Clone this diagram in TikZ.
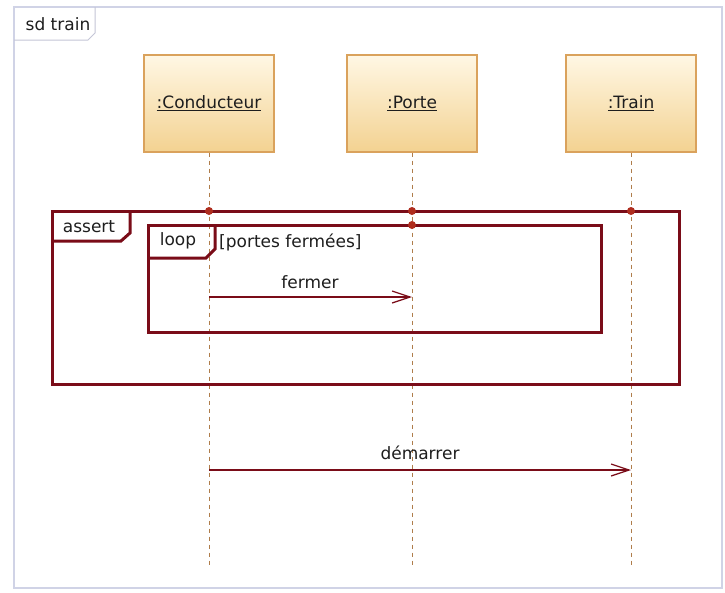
\documentclass[tikz,border=0pt]{standalone}
\usepackage{fontspec}
\setmainfont{DejaVu Sans}
\usetikzlibrary{arrows.meta}
\definecolor{frameRed}{RGB}{122,12,24}
\definecolor{lifeC}{RGB}{175,125,75}
\definecolor{boxBorder}{RGB}{218,162,92}
\definecolor{boxTop}{RGB}{255,247,228}
\definecolor{boxBot}{RGB}{243,210,145}
\definecolor{outerC}{RGB}{208,211,230}
\definecolor{dotC}{RGB}{175,45,30}
\definecolor{txtC}{RGB}{30,30,30}
\begin{document}
\begin{tikzpicture}[x=1pt,y=-1pt,
  font=\fontsize{17}{20}\selectfont,
  headbox/.style={draw=boxBorder, line width=1.2pt, top color=boxTop, bottom color=boxBot,
    minimum width=130pt, minimum height=97pt, inner sep=0pt, text=txtC},
  lifeline/.style={draw=lifeC, line width=1pt, dash pattern=on 4pt off 4pt},
  fragment/.style={draw=frameRed, line width=3pt},
  msg/.style={draw=frameRed, line width=1.3pt, -{Straight Barb[length=18pt,width=12pt,line width=1.2pt]}},
  occ/.style={circle, fill=dotC, inner sep=0pt, minimum size=8pt},
  lbl/.style={inner sep=0pt, text=txtC},
]
\useasboundingbox (0,0) rectangle (725,592);
\fill[white] (0,0) rectangle (725,592);
% outer diagram frame
\draw[outerC, line width=1.5pt] (14,7) rectangle (722,588);
\draw[outerC!85!gray, line width=1pt] (14,40) -- (88,40) -- (95,33) -- (95,7);
\node[lbl] (sdname) at (58,24) {sd train};

% lifeline heads
\node[headbox] (cond) at (209,103.5) {\underline{:Conducteur}};
\node[headbox] (porte) at (412,103.5) {\underline{:Porte}};
\node[headbox] (train) at (631,103.5) {\underline{:Train}};

% lifeline ends
\coordinate (condEnd) at (209,566);
\coordinate (porteEnd) at (412,566);
\coordinate (trainEnd) at (631,566);
\draw[lifeline] (cond.south) -- (condEnd);
\draw[lifeline] (porte.south) -- (porteEnd);
\draw[lifeline] (train.south) -- (trainEnd);

% assert fragment
\draw[fragment] (52,211) rectangle (679,384);
\draw[fragment] (52,241) -- (121,241) -- (130,233) -- (130,211);
\node[lbl] (assertlbl) at (89,227) {assert};

% loop fragment
\draw[fragment] (148,225) rectangle (601,332);
\draw[fragment] (148,258) -- (206,258) -- (215,249) -- (215,225);
\node[lbl] (looplbl) at (178,241) {loop};
\node[lbl, anchor=west] (guard) at (219,242) {[portes fermées]};

% occurrence dots
\node[occ] (d1) at (209,211) {};
\node[occ] (d2) at (412,211) {};
\node[occ] (d3) at (631,211) {};
\node[occ] (d4) at (412,225) {};

% messages
\coordinate (fermerS) at (209,297);
\coordinate (fermerE) at (412,297);
\draw[msg] (fermerS) -- (fermerE);
\node[lbl] (fermerlbl) at (310,282) {fermer};

\coordinate (demS) at (209,470);
\coordinate (demE) at (631,470);
\draw[msg] (demS) -- (demE);
\node[lbl] (demlbl) at (420,453) {démarrer};
\end{tikzpicture}
\end{document}
